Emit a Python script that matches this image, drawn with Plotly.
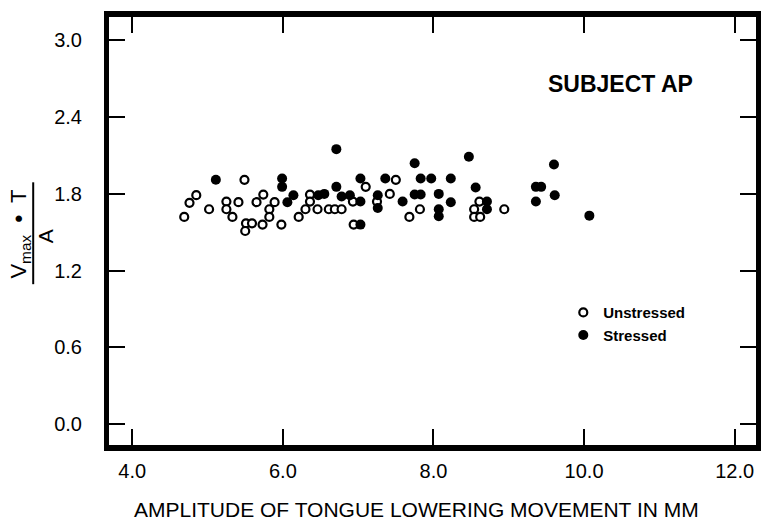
import plotly.graph_objects as go

# ---- data ----
unstressed_x = [4.69, 4.76, 4.85, 5.02, 5.25, 5.25, 5.33, 5.41, 5.49, 5.51, 5.59, 5.50, 5.65, 5.74,
                5.73, 5.82, 5.82, 5.89, 5.98, 6.21, 6.30, 6.36, 6.36, 6.46, 6.61, 6.69, 6.78, 6.93,
                6.94, 7.10, 7.25, 7.42, 7.50, 7.68, 7.82, 8.54, 8.54, 8.62, 8.61, 8.94]
unstressed_y = [1.62, 1.73, 1.79, 1.68, 1.74, 1.68, 1.62, 1.735, 1.91, 1.57, 1.57, 1.51, 1.735, 1.795,
                1.56, 1.68, 1.62, 1.735, 1.56, 1.62, 1.68, 1.795, 1.74, 1.68, 1.68, 1.68, 1.68, 1.74,
                1.56, 1.855, 1.74, 1.80, 1.91, 1.62, 1.68, 1.68, 1.62, 1.62, 1.74, 1.68]

stressed_x = [5.11, 5.99, 5.99, 6.06, 6.14, 6.47, 6.55, 6.71, 6.71, 6.78, 6.89, 7.03, 7.03, 7.03,
              7.26, 7.26, 7.36, 7.59, 7.75, 7.75, 7.83, 7.83, 7.97, 8.07, 8.07, 8.07, 8.23, 8.23,
              8.47, 8.56, 8.71, 8.71, 9.36, 9.43, 9.36, 9.60, 9.61, 10.07]
stressed_y = [1.91, 1.92, 1.855, 1.735, 1.79, 1.79, 1.80, 2.15, 1.855, 1.78, 1.79, 1.92, 1.74, 1.56,
              1.79, 1.69, 1.92, 1.74, 2.04, 1.795, 1.795, 1.92, 1.92, 1.80, 1.68, 1.625, 1.92, 1.735,
              2.09, 1.85, 1.74, 1.68, 1.855, 1.855, 1.74, 2.03, 1.79, 1.63]

x_ticks = [4.0, 6.0, 8.0, 10.0, 12.0]
x_tick_labels = ["4.0", "6.0", "8.0", "10.0", "12.0"]
y_ticks = [0.0, 0.6, 1.2, 1.8, 2.4, 3.0]
y_tick_labels = ["0.0", "0.6", "1.2", "1.8", "2.4", "3.0"]

FONT = "Liberation Sans, Arial, sans-serif"

fig = go.Figure()
fig.add_trace(go.Scatter(
    x=unstressed_x, y=unstressed_y, mode="markers", name="Unstressed",
    marker=dict(symbol="circle", size=8, color="white", line=dict(color="black", width=2.2)),
))
fig.add_trace(go.Scatter(
    x=stressed_x, y=stressed_y, mode="markers", name="Stressed",
    marker=dict(symbol="circle", size=10, color="black", line=dict(color="black", width=0)),
))

W, H = 766, 523
L, R, T, B = 108.5, 4.5, 16.5, 78
pw, ph = W - L - R, H - T - B


def px(xp):
    return (xp - L) / pw


def py(yp):
    return (H - B - yp) / ph


fig.update_layout(
    width=W, height=H,
    margin=dict(l=L, r=R, t=T, b=B, pad=0),
    paper_bgcolor="white", plot_bgcolor="white",
    font=dict(family=FONT, color="black", size=18),
    showlegend=True,
    legend=dict(
        x=px(567), y=py(296), xanchor="left", yanchor="top",
        font=dict(family=FONT, size=15, color="black", weight="bold"),
        bgcolor="rgba(0,0,0,0)", borderwidth=0, tracegroupgap=0,
    ),
    xaxis=dict(
        range=[3.691, 12.283], tickvals=x_ticks, ticktext=x_tick_labels,
        showgrid=False, zeroline=False,
        showline=True, linecolor="black", linewidth=6, mirror="ticks",
        ticks="inside", ticklen=16, tickwidth=2, tickcolor="black",
        ticklabelstandoff=3, tickfont=dict(size=20, family=FONT, color="black"),
    ),
    yaxis=dict(
        range=[-0.163, 3.183], tickvals=y_ticks, ticktext=y_tick_labels,
        showgrid=False, zeroline=False,
        showline=True, linecolor="black", linewidth=5, mirror="ticks",
        ticks="inside", ticklen=16, tickwidth=2, tickcolor="black",
        ticklabelposition="outside", ticklabelstandoff=18,
        tickfont=dict(size=20, family=FONT, color="black"),
    ),
    annotations=[
        dict(text="AMPLITUDE OF TONGUE LOWERING MOVEMENT IN MM", xref="paper", yref="paper",
             x=px(419), y=py(510), xanchor="center", yanchor="middle", showarrow=False,
             font=dict(size=21, family=FONT, color="black")),
        dict(text="SUBJECT AP", xref="paper", yref="paper",
             x=px(625), y=py(84), xanchor="center", yanchor="middle", showarrow=False,
             font=dict(size=23, family=FONT, color="black", weight="bold")),
        dict(text="V<sub>max</sub>  <b>•</b>  T", xref="paper", yref="paper",
             x=px(19), y=py(234), xanchor="center", yanchor="middle", showarrow=False,
             textangle=-90, font=dict(size=22, family=FONT, color="black")),
        dict(text="A", xref="paper", yref="paper",
             x=px(44), y=py(236), xanchor="center", yanchor="middle", showarrow=False,
             textangle=-90, font=dict(size=21, family=FONT, color="black")),
    ],
    shapes=[
        dict(type="line", xref="paper", yref="paper",
             x0=px(32), x1=px(32), y0=py(284), y1=py(182),
             line=dict(color="black", width=2)),
    ],
)

fig.write_html(
    "out.html",
    config={"displayModeBar": False},
    post_script="document.body.style.margin='0';document.body.style.overflow='hidden';",
)
